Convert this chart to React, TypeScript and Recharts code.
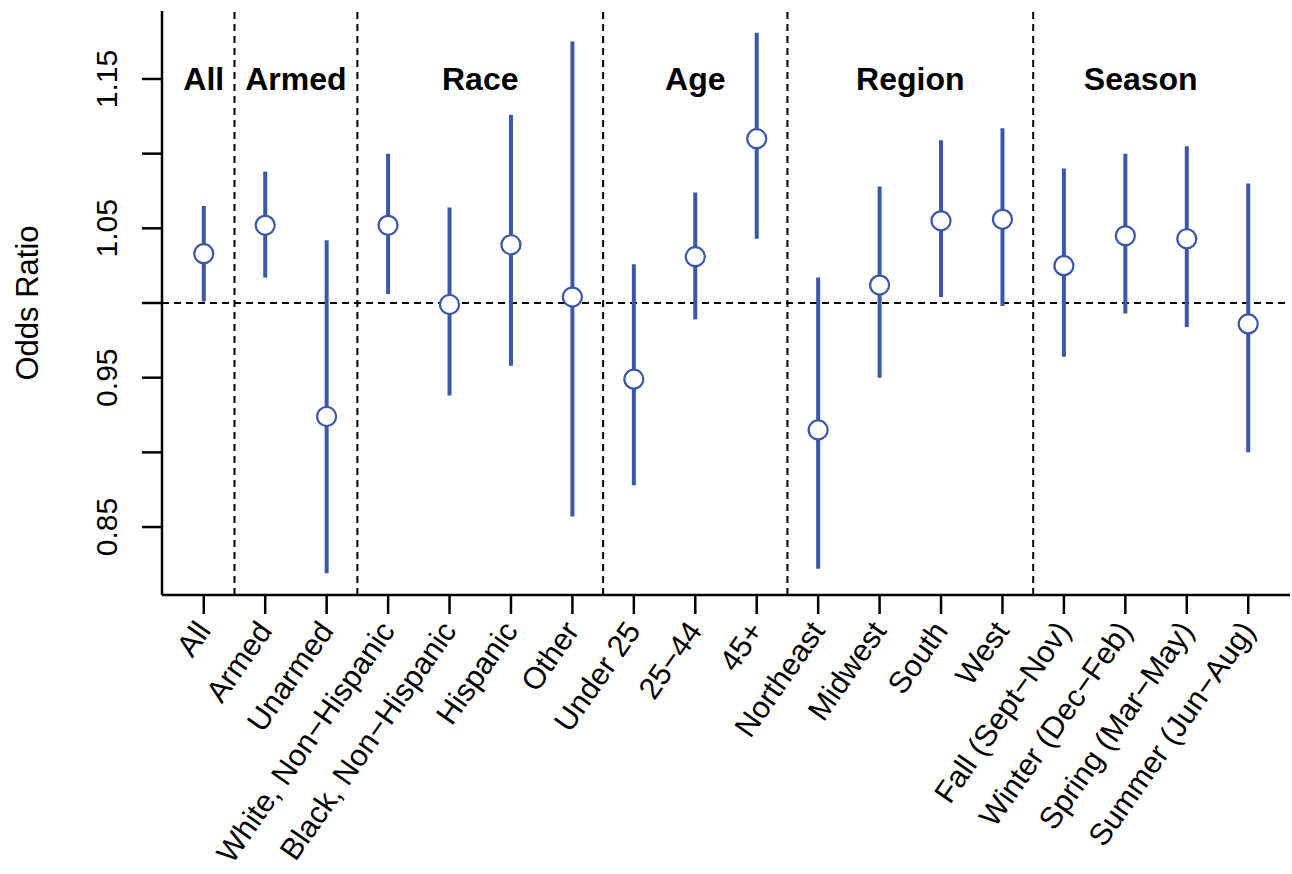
import { ScatterChart, Scatter, XAxis, YAxis, ErrorBar, ReferenceLine, ReferenceDot, Label } from 'recharts';

// categories along the x axis (R renders '-' as a minus sign)
const categories = [
  'All', 'Armed', 'Unarmed', 'White, Non−Hispanic', 'Black, Non−Hispanic', 'Hispanic', 'Other',
  'Under 25', '25−44', '45+', 'Northeast', 'Midwest', 'South', 'West',
  'Fall (Sept−Nov)', 'Winter (Dec−Feb)', 'Spring (Mar−May)', 'Summer (Jun−Aug)',
];

// point estimates and 95% CI bounds
const oddsRatio = [1.033, 1.052, 0.924, 1.052, 0.999, 1.039, 1.004, 0.949, 1.031, 1.110, 0.915, 1.012, 1.055, 1.056, 1.025, 1.045, 1.043, 0.986];
const lower = [1.001, 1.017, 0.819, 1.006, 0.938, 0.958, 0.857, 0.878, 0.989, 1.043, 0.822, 0.950, 1.004, 0.998, 0.964, 0.993, 0.984, 0.900];
const upper = [1.065, 1.088, 1.042, 1.100, 1.064, 1.126, 1.175, 1.026, 1.074, 1.181, 1.017, 1.078, 1.109, 1.117, 1.090, 1.100, 1.105, 1.080];

// group headings and dividers (in category index units)
const groupNames = ['All', 'Armed', 'Race', 'Age', 'Region', 'Season'];
const groupCenters = [0, 1.5, 4.5, 8, 11.5, 15.25];
const groupDividers = [0.5, 2.5, 6.5, 9.5, 13.5];

const yTicks = [0.85, 0.9, 0.95, 1.0, 1.05, 1.1, 1.15];
const yTickLabels = ['0.85', '', '0.95', '', '1.05', '', '1.15'];

const BLUE = '#3b57a7';
const FONT = '"Liberation Sans", Arial, Helvetica, sans-serif';
const TITLE_Y = 1.1423;

const rows = categories.map((name, i) => ({
  idx: i,
  name,
  or: oddsRatio[i],
  err: [oddsRatio[i] - lower[i], upper[i] - oddsRatio[i]],
}));

function XTick(props: any) {
  const { x, y, payload } = props;
  const ax = x + 8;
  const ay = y + 15;
  return (
    <text x={ax} y={ay} transform={`rotate(-55, ${ax}, ${ay})`} textAnchor="end" fontSize={30.5} fontFamily={FONT} fill="#000">
      {categories[payload.value]}
    </text>
  );
}

function YTick(props: any) {
  const { x, y, payload } = props;
  const i = yTicks.findIndex((t) => Math.abs(t - payload.value) < 1e-6);
  const txt = i >= 0 ? yTickLabels[i] : '';
  if (!txt) return null;
  const ax = x - 23;
  return (
    <text x={ax} y={y} transform={`rotate(-90, ${ax}, ${y})`} textAnchor="middle" fontSize={30} fontFamily={FONT} fill="#000">
      {txt}
    </text>
  );
}

export default function App() {
  return (
    <div style={{ position: 'absolute', left: 0, top: 0, width: 1292, height: 874, background: '#fff' }}>
      <ScatterChart width={1292} height={874} margin={{ top: 11, right: 2, bottom: 29, left: 42 }}>
        <XAxis
          type="number"
          dataKey="idx"
          domain={[-0.68, 17.68]}
          allowDataOverflow
          ticks={categories.map((_, i) => i)}
          interval={0}
          tickSize={19}
          height={250}
          axisLine={{ stroke: '#000', strokeWidth: 2.5 }}
          tickLine={{ stroke: '#000', strokeWidth: 2.5 }}
          tick={<XTick />}
        />
        <YAxis
          type="number"
          dataKey="or"
          domain={[0.8045, 1.1955]}
          allowDataOverflow
          ticks={yTicks}
          interval={0}
          tickSize={20}
          width={120}
          axisLine={{ stroke: '#000', strokeWidth: 2.5 }}
          tickLine={{ stroke: '#000', strokeWidth: 2.5 }}
          tick={<YTick />}
        >
          <Label
            content={(p: any) => {
              const vb = p.viewBox || { x: 42, y: 11, width: 120, height: 584 };
              const lx = vb.x - 4;
              const ly = vb.y + vb.height / 2;
              return (
                <text x={lx} y={ly} transform={`rotate(-90, ${lx}, ${ly})`} textAnchor="middle" fontSize={31} fontFamily={FONT} fill="#000">
                  Odds Ratio
                </text>
              );
            }}
          />
        </YAxis>
        {groupDividers.map((d) => (
          <ReferenceLine key={d} x={d} stroke="#000" strokeWidth={2} strokeDasharray="7 5" />
        ))}
        <ReferenceLine y={1} stroke="#000" strokeWidth={2} strokeDasharray="7 5" />
        {groupNames.map((g, i) => (
          <ReferenceDot
            key={g}
            x={groupCenters[i]}
            y={TITLE_Y}
            r={0}
            shape={(p: any) => (
              <text x={p.cx} y={p.cy} textAnchor="middle" fontSize={32} fontWeight="bold" fontFamily={FONT} fill="#000">
                {g}
              </text>
            )}
          />
        ))}
        <Scatter data={rows} dataKey="or" isAnimationActive={false} shape={() => <g />}>
          <ErrorBar dataKey="err" direction="y" width={0} stroke={BLUE} strokeWidth={4} isAnimationActive={false} />
        </Scatter>
        <Scatter
          data={rows}
          dataKey="or"
          isAnimationActive={false}
          shape={(p: any) => <circle cx={p.cx} cy={p.cy} r={9.5} fill="#fff" stroke={BLUE} strokeWidth={2.2} />}
        />
      </ScatterChart>
    </div>
  );
}
